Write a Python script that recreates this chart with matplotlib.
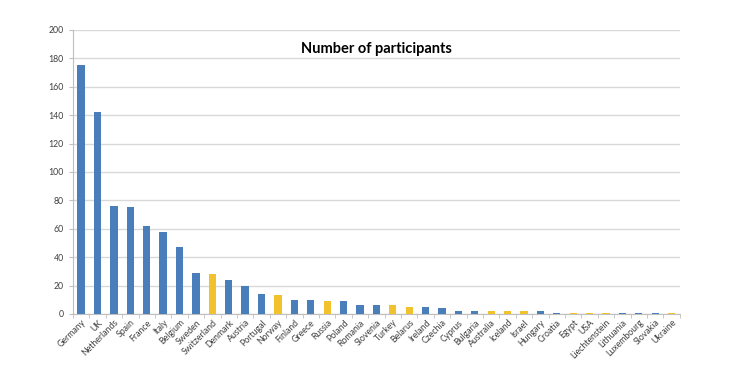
import matplotlib
matplotlib.use("Agg")
import matplotlib.pyplot as plt
import numpy as np

countries = ["Germany", "UK", "Netherlands", "Spain", "France", "Italy", "Belgium",
             "Sweden", "Switzerland", "Denmark", "Austria", "Portugal", "Norway",
             "Finland", "Greece", "Russia", "Poland", "Romania", "Slovenia", "Turkey",
             "Belarus", "Ireland", "Czechia", "Cyprus", "Bulgaria", "Australia",
             "Iceland", "Israel", "Hungary", "Croatia", "Egypt", "USA", "Liechtenstein",
             "Lithuania", "Luxembourg", "Slovakia", "Ukraine"]
participants = [175, 142, 76, 75, 62, 58, 47, 29, 28, 24, 20, 14, 13, 10, 10, 9, 9,
                6, 6, 6, 5, 5, 4, 2, 2, 2, 2, 2, 2, 1, 1, 1, 1, 1, 1, 1, 1]
highlighted = ["Switzerland", "Norway", "Russia", "Turkey", "Belarus", "Australia",
               "Iceland", "Israel", "Egypt", "USA", "Liechtenstein", "Ukraine"]

BLUE = "#4a7ebb"
YELLOW = "#f2c12e"

plt.rcParams["font.family"] = ["Lato", "DejaVu Sans"]

fig = plt.figure(figsize=(7.32, 3.89), dpi=100)
ax = fig.add_axes([0.0997, 0.193, 0.829, 0.730])

x = np.arange(len(countries))
colors = [YELLOW if c in highlighted else BLUE for c in countries]
ax.bar(x, participants, width=0.45, color=colors, zorder=3)

ax.set_xlim(-0.5, len(countries) - 0.5)
ax.set_ylim(0, 200)
ax.set_yticks(range(0, 201, 20))
ax.yaxis.grid(True, color="#d9d9d9", linewidth=1, zorder=0)

ax.set_xticks(x)
ax.set_xticklabels(countries, rotation=45, ha="right", rotation_mode="anchor",
                   fontsize=6.3, color="#404040")
ax.set_xticks(np.arange(-0.5, len(countries), 1), minor=True)
ax.tick_params(axis="x", which="major", length=0, pad=3)
ax.tick_params(axis="x", which="minor", length=3, color="#bfbfbf")
ax.tick_params(axis="y", length=3, color="#bfbfbf", labelsize=6.3, labelcolor="#404040")

for s in ["top", "right"]:
    ax.spines[s].set_visible(False)
ax.spines["left"].set_color("#bfbfbf")
ax.spines["bottom"].set_color("#bfbfbf")

ax.set_title("Number of participants", fontsize=10.5, fontweight="bold", y=0.89)

fig.savefig("out.png", dpi=100)
